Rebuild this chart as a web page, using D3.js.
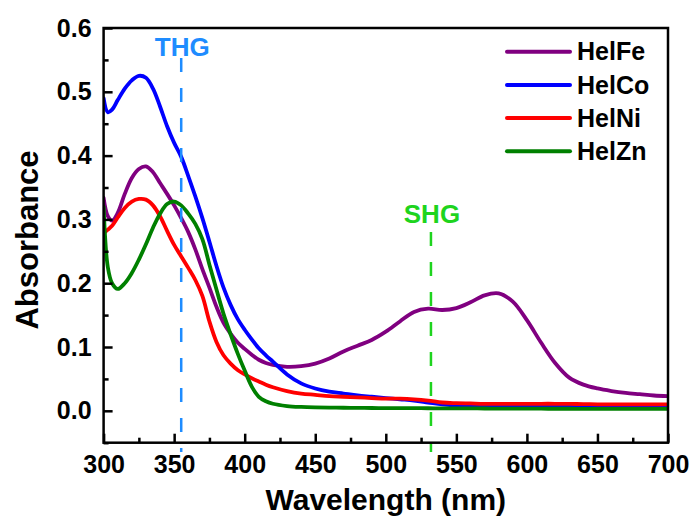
<!DOCTYPE html>
<html>
<head>
<meta charset="utf-8">
<script src="https://cdn.jsdelivr.net/npm/d3@7/dist/d3.min.js"></script>
<style>
  html, body { margin: 0; padding: 0; background: #fff; }
  svg { display: block; }
  text { font-family: "Liberation Sans", Arial, sans-serif; font-weight: bold; }
</style>
</head>
<body>
<svg id="chart" width="692" height="517"></svg>
<script>
// ---- Data ----
const wavelengths = [300,303,306,310,315,320,325,330,335,340,345,350,355,360,365,370,375,380,385,390,395,400,405,410,415,420,430,440,450,460,470,480,490,500,510,520,530,540,550,560,570,580,590,600,610,620,630,640,650,660,670,680,690,700];

const helFe = [0.334,0.305,0.298,0.310,0.340,0.365,0.379,0.383,0.374,0.357,0.340,0.322,0.302,0.280,0.253,0.222,0.193,0.163,0.138,0.121,0.107,0.097,0.088,0.080,0.075,0.072,0.069,0.070,0.074,0.082,0.093,0.102,0.111,0.124,0.140,0.155,0.160,0.158,0.161,0.170,0.181,0.184,0.171,0.142,0.107,0.075,0.052,0.041,0.035,0.031,0.028,0.026,0.024,0.023];

const helCo = [0.490,0.468,0.472,0.487,0.505,0.518,0.525,0.522,0.505,0.477,0.446,0.420,0.398,0.368,0.336,0.302,0.265,0.227,0.193,0.166,0.144,0.127,0.112,0.098,0.087,0.077,0.057,0.043,0.035,0.030,0.027,0.024,0.022,0.020,0.018,0.016,0.013,0.010,0.008,0.0075,0.0072,0.007,0.007,0.007,0.007,0.007,0.007,0.0068,0.0066,0.0064,0.0062,0.006,0.006,0.006];

const helNi = [0.278,0.284,0.290,0.303,0.318,0.328,0.332,0.331,0.322,0.305,0.282,0.260,0.242,0.224,0.205,0.180,0.140,0.108,0.087,0.074,0.064,0.057,0.051,0.046,0.041,0.037,0.031,0.027,0.025,0.023,0.022,0.021,0.020,0.019,0.019,0.018,0.016,0.013,0.012,0.0115,0.011,0.011,0.011,0.011,0.011,0.011,0.0108,0.0105,0.0102,0.010,0.010,0.010,0.010,0.010];

const helZn = [0.320,0.225,0.200,0.191,0.200,0.216,0.237,0.261,0.287,0.309,0.324,0.328,0.322,0.309,0.293,0.269,0.229,0.190,0.152,0.120,0.090,0.063,0.038,0.022,0.015,0.011,0.0075,0.006,0.0053,0.005,0.0048,0.0046,0.0044,0.0043,0.0042,0.0041,0.004,0.0039,0.0038,0.0037,0.0036,0.0035,0.0034,0.0033,0.0033,0.0032,0.0032,0.0031,0.0031,0.003,0.003,0.003,0.003,0.003];

const seriesNames = ["HelFe","HelCo","HelNi","HelZn"];
const seriesColors = ["#800080","#0000ff","#ff0000","#008000"];
const seriesValues = [helFe, helCo, helNi, helZn];

const xTicks = [300,350,400,450,500,550,600,650,700];
const xMinorTicks = [325,375,425,475,525,575,625,675];
const yTicks = [0.0,0.1,0.2,0.3,0.4,0.5,0.6];
const yMinorTicks = [-0.05,0.05,0.15,0.25,0.35,0.45,0.55];

const markerLabels = ["THG","SHG"];
const markerWavelengths = [355,532];
const markerColors = ["#1e8cff","#1ed41e"];

// ---- Layout ----
const L = 103.6, R = 668, T = 28, B = 442.7;
const svg = d3.select("#chart");
const x = d3.scaleLinear().domain([300,700]).range([L,R]);
const y = d3.scaleLinear().domain([-0.05,0.6]).range([B,T]);

svg.append("defs").append("clipPath").attr("id","clip")
  .append("rect").attr("x",L).attr("y",T).attr("width",R-L).attr("height",B-T);

// Curves
const line = d3.line().x(d => x(d[0])).y(d => y(d[1])).curve(d3.curveCatmullRom.alpha(0.5));
const curves = svg.append("g").attr("clip-path","url(#clip)");
seriesValues.forEach((vals,i) => {
  curves.append("path")
    .datum(wavelengths.map((w,j) => [w, vals[j]]))
    .attr("d", line)
    .attr("fill","none")
    .attr("stroke", seriesColors[i])
    .attr("stroke-width", 3.8)
    .attr("stroke-linejoin","round")
    .attr("stroke-linecap","round");
});

// Marker dashed lines + labels
const markerTop = [58, 232];
const markerTextY = [56, 223];
markerLabels.forEach((lab,i) => {
  const mx = x(markerWavelengths[i]);
  svg.append("line")
    .attr("x1", mx).attr("x2", mx)
    .attr("y1", markerTop[i]).attr("y2", 452)
    .attr("stroke", markerColors[i])
    .attr("stroke-width", 2.5)
    .attr("stroke-dasharray", "14,16");
  svg.append("text")
    .attr("x", mx + 1).attr("y", markerTextY[i])
    .attr("text-anchor","middle")
    .attr("font-size", 26)
    .attr("fill", markerColors[i])
    .text(lab);
});

// Axes
const fmt = d3.format(".1f");
const xAxis = svg.append("g").attr("transform",`translate(0,${B})`)
  .call(d3.axisBottom(x).tickValues(xTicks).tickSize(-9).tickSizeOuter(0).tickPadding(13).tickFormat(d3.format("d")));
const xMinor = svg.append("g").attr("transform",`translate(0,${B})`)
  .call(d3.axisBottom(x).tickValues(xMinorTicks).tickSize(-5).tickSizeOuter(0).tickFormat(""));
const yAxis = svg.append("g").attr("transform",`translate(${L},0)`)
  .call(d3.axisLeft(y).tickValues(yTicks).tickSize(-9).tickSizeOuter(0).tickPadding(12).tickFormat(fmt));
const yMinor = svg.append("g").attr("transform",`translate(${L},0)`)
  .call(d3.axisLeft(y).tickValues(yMinorTicks).tickSize(-5).tickSizeOuter(0).tickFormat(""));

[xAxis,xMinor,yAxis,yMinor].forEach(g => {
  g.select(".domain").remove();
  g.selectAll(".tick line").attr("stroke","#000").attr("stroke-width",2.5);
  g.selectAll(".tick text")
    .attr("fill","#000")
    .attr("font-size",25)
    .attr("font-family","'Liberation Sans', Arial, sans-serif")
    .attr("font-weight","bold");
});

// Frame
svg.append("rect")
  .attr("x",L).attr("y",T).attr("width",R-L).attr("height",B-T)
  .attr("fill","none").attr("stroke","#000").attr("stroke-width",2.5);

// Axis titles
svg.append("text")
  .attr("x",(L+R)/2).attr("y",510)
  .attr("text-anchor","middle")
  .attr("font-size",30)
  .attr("fill","#000")
  .text("Wavelength (nm)");
svg.append("text")
  .attr("transform","translate(38,240) rotate(-90)")
  .attr("text-anchor","middle")
  .attr("font-size",31)
  .attr("fill","#000")
  .text("Absorbance");

// Legend
const legendY0 = 51.7, legendDy = 33.2;
seriesNames.forEach((n,i) => {
  const ly = legendY0 + i*legendDy;
  svg.append("line")
    .attr("x1",507).attr("x2",570).attr("y1",ly).attr("y2",ly)
    .attr("stroke",seriesColors[i]).attr("stroke-width",4).attr("stroke-linecap","round");
  svg.append("text")
    .attr("x",577).attr("y",ly)
    .attr("dy","0.35em")
    .attr("font-size",25)
    .attr("fill","#000")
    .text(n);
});
</script>
</body>
</html>
